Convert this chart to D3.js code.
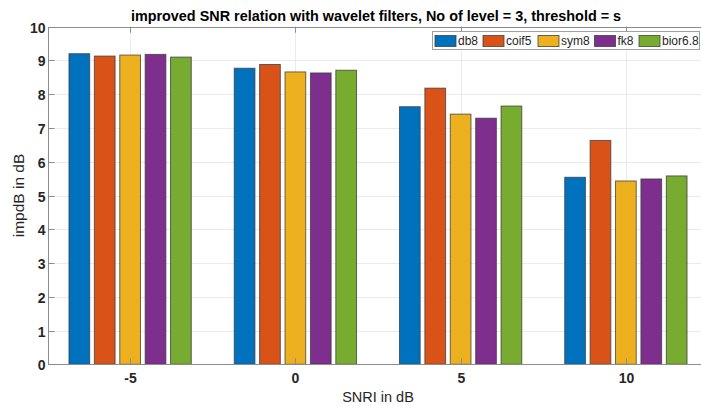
<!DOCTYPE html>
<html>
<head>
<meta charset="utf-8">
<script src="https://cdn.jsdelivr.net/npm/d3@7"></script>
<style>
  body { margin: 0; background: #fff; }
  text { font-family: "Liberation Sans", Arial, sans-serif; }
</style>
</head>
<body>
<script>
// data
var snriLevels = ["-5", "0", "5", "10"];
var filters = ["db8", "coif5", "sym8", "fk8", "bior6.8"];
var db8 = [9.2, 8.77, 7.63, 5.54];
var coif5 = [9.13, 8.88, 8.18, 6.63];
var sym8 = [9.16, 8.66, 7.41, 5.43];
var fk8 = [9.18, 8.63, 7.29, 5.49];
var bior68 = [9.1, 8.71, 7.65, 5.58];
var yTicks = [0, 1, 2, 3, 4, 5, 6, 7, 8, 9, 10];
var colors = ["#0072BD", "#D95319", "#EDB120", "#7E2F8E", "#77AC30"];

var series = [db8, coif5, sym8, fk8, bior68];

var svgWidth = 701, svgHeight = 406;
var plotL = 48.5, plotR = 708.5, plotT = 26.7, plotB = 364.3;

var svg = d3.select("body").append("svg")
  .attr("width", svgWidth)
  .attr("height", svgHeight);

var x0 = d3.scaleBand().domain(snriLevels).range([plotL - 1, plotR]);
var x1 = d3.scaleBand().domain(filters).range([-63.5, 63.5])
  .paddingInner(0.185).paddingOuter(0.0925);
var y = d3.scaleLinear().domain([0, 10]).range([plotB, plotT]);

// grid
svg.append("g").selectAll("line")
  .data(yTicks.slice(1)).enter().append("line")
  .attr("x1", plotL).attr("x2", plotR)
  .attr("y1", d => Math.round(y(d)) + 0.5).attr("y2", d => Math.round(y(d)) + 0.5)
  .attr("stroke", "#ebebeb").attr("stroke-width", 1);
svg.append("g").selectAll("line")
  .data(snriLevels).enter().append("line")
  .attr("x1", d => Math.round(x0(d) + x0.bandwidth() / 2) + 0.5)
  .attr("x2", d => Math.round(x0(d) + x0.bandwidth() / 2) + 0.5)
  .attr("y1", plotT).attr("y2", plotB)
  .attr("stroke", "#ebebeb").attr("stroke-width", 1);

// bars
var groups = svg.append("g").selectAll("g")
  .data(snriLevels).enter().append("g")
  .attr("transform", d => `translate(${x0(d) + x0.bandwidth() / 2},0)`);

groups.selectAll("rect")
  .data((d, i) => filters.map((f, k) => ({ f: f, k: k, v: series[k][i] })))
  .enter().append("rect")
  .attr("x", d => x1(d.f))
  .attr("y", d => y(d.v))
  .attr("width", x1.bandwidth())
  .attr("height", d => y(0) - y(d.v))
  .attr("fill", d => colors[d.k])
  .attr("stroke", "#3a3a3a")
  .attr("stroke-opacity", 0.75)
  .attr("stroke-width", 1);

// axes box
svg.append("rect")
  .attr("x", plotL).attr("y", Math.round(plotT) + 0.5)
  .attr("width", plotR - plotL).attr("height", Math.round(plotB) - Math.round(plotT))
  .attr("fill", "none").attr("stroke", "#8c8c8c").attr("stroke-width", 1);

// y ticks + labels
var yAxis = svg.append("g");
yTicks.forEach(function (t) {
  var yy = Math.round(y(t)) + 0.5;
  yAxis.append("line").attr("x1", plotL).attr("x2", plotL + 6)
    .attr("y1", yy).attr("y2", yy).attr("stroke", "#8c8c8c");
  yAxis.append("text").attr("x", plotL - 3).attr("y", yy + 5)
    .attr("text-anchor", "end").attr("font-size", 14).attr("font-weight", "bold")
    .attr("fill", "#262626").text(t);
});

// x ticks + labels
var xAxis = svg.append("g");
snriLevels.forEach(function (s) {
  var xx = Math.round(x0(s) + x0.bandwidth() / 2) + 0.5;
  xAxis.append("line").attr("x1", xx).attr("x2", xx)
    .attr("y1", plotB).attr("y2", plotB - 6).attr("stroke", "#8c8c8c");
  xAxis.append("line").attr("x1", xx).attr("x2", xx)
    .attr("y1", plotT).attr("y2", plotT + 6).attr("stroke", "#8c8c8c");
  xAxis.append("text").attr("x", xx).attr("y", 382.5)
    .attr("text-anchor", "middle").attr("font-size", 14).attr("font-weight", "bold")
    .attr("fill", "#262626").text(s);
});

// titles
svg.append("text").attr("x", 376).attr("y", 20.5)
  .attr("text-anchor", "middle").attr("font-size", 14.4).attr("font-weight", "bold")
  .attr("fill", "#000").text("improved SNR relation with wavelet filters, No of level = 3, threshold = s");

svg.append("text").attr("x", 378).attr("y", 402)
  .attr("text-anchor", "middle").attr("font-size", 14.5)
  .attr("fill", "#262626").text("SNRI in dB");

svg.append("text")
  .attr("transform", `translate(24,${(plotT + plotB) / 2}) rotate(-90)`)
  .attr("text-anchor", "middle").attr("font-size", 15.5)
  .attr("fill", "#262626").text("impdB in dB");

// legend
var legend = svg.append("g");
legend.append("rect").attr("x", 432.5).attr("y", 31.5).attr("width", 267).attr("height", 18)
  .attr("fill", "#fff").attr("stroke", "#a0a0a0");
var legX = [435, 483, 538, 594.5, 639];
filters.forEach(function (f, k) {
  legend.append("rect").attr("x", legX[k]).attr("y", 35.5).attr("width", 21).attr("height", 11)
    .attr("fill", colors[k]).attr("stroke", "#3a3a3a").attr("stroke-opacity", 0.75);
  legend.append("text").attr("x", legX[k] + 23).attr("y", 45)
    .attr("font-size", 12).attr("fill", "#262626").text(f);
});
</script>
</body>
</html>
